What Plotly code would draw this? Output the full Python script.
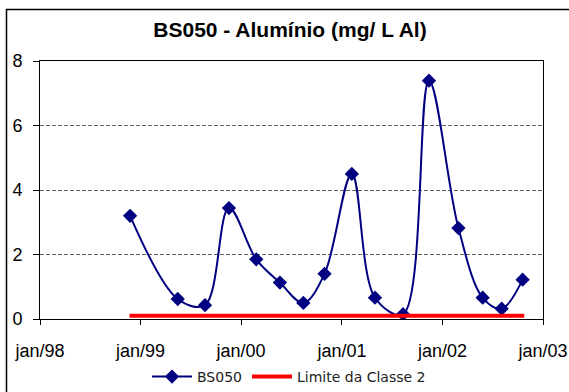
import plotly.graph_objects as go

# Data
dates = ["1998-11-24", "1999-05-16", "1999-08-23", "1999-11-18", "2000-02-25",
         "2000-05-21", "2000-08-14", "2000-10-30", "2001-02-06", "2001-05-01",
         "2001-08-11", "2001-11-13", "2002-02-28", "2002-05-27", "2002-08-04",
         "2002-10-19"]
bs050 = [3.2, 0.62, 0.43, 3.44, 1.85, 1.13, 0.50, 1.40, 4.50, 0.66,
         0.15, 7.39, 2.82, 0.66, 0.32, 1.22]
limit_dates = ["1998-11-22", "2002-10-25"]
limit_vals = [0.1, 0.1]
tick_dates = ["1998-01-01", "1999-01-01", "2000-01-01", "2001-01-01", "2002-01-01", "2003-01-01"]
tick_labels = ["jan/98", "jan/99", "jan/00", "jan/01", "jan/02", "jan/03"]

FONT = "Liberation Sans, Arial, sans-serif"

fig = go.Figure()
fig.add_trace(go.Scatter(
    x=dates, y=bs050, name="BS050", mode="lines+markers",
    line=dict(color="#000080", width=2, shape="spline", smoothing=1.0),
    marker=dict(symbol="diamond", size=11, color="#000080"),
))
fig.add_trace(go.Scatter(
    x=limit_dates, y=limit_vals, name="Limite da Classe 2", mode="lines",
    line=dict(color="#FF0000", width=4),
))

L, R, T, B = 40, 26, 61, 73
W, H = 569, 392
pw, ph = W - L - R, H - T - B

def px(x):
    return (x - L) / pw

def py(y):
    return (H - B - y) / ph

fig.update_layout(
    width=W, height=H,
    margin=dict(l=L, r=R, t=T, b=B, pad=0, autoexpand=False),
    paper_bgcolor="white", plot_bgcolor="white",
    font=dict(family=FONT, color="black", size=18),
    title=dict(text="<b>BS050 - Alumínio (mg/ L Al)</b>", x=px(290), xref="paper",
               xanchor="center", y=1 - 30 / H, yref="container", yanchor="middle",
               font=dict(family=FONT, size=21, color="black")),
    showlegend=True,
    legend=dict(orientation="h", x=px(289), xanchor="center", y=py(377), yanchor="middle",
                font=dict(family="DejaVu Sans, sans-serif", size=14, color="#222222"),
                bgcolor="rgba(0,0,0,0)", itemwidth=40),
    xaxis=dict(type="date", range=["1998-01-01", "2003-01-01"],
               tickvals=tick_dates, ticktext=tick_labels, automargin=False,
               showgrid=False, zeroline=False,
               showline=True, linecolor="black", linewidth=1, mirror=True,
               ticks="outside", ticklen=5, tickcolor="black", tickwidth=1,
               ticklabelstandoff=10,
               tickfont=dict(family=FONT, size=18, color="black")),
    yaxis=dict(range=[0, 8], dtick=2, tick0=0, automargin=False,
               showgrid=True, gridcolor="#666666", griddash="4px,2px", gridwidth=1,
               zeroline=False,
               showline=True, linecolor="black", linewidth=1, mirror=True,
               ticks="outside", ticklen=6, tickcolor="black", tickwidth=1,
               ticklabelstandoff=7,
               tickfont=dict(family=FONT, size=18, color="black")),
    shapes=[dict(type="rect", xref="paper", yref="paper",
                 x0=px(6.5), x1=px(575), y0=py(400), y1=py(9.5),
                 line=dict(color="black", width=1.5), fillcolor="rgba(0,0,0,0)",
                 layer="below")],
)

post = (
    "var s='margin:0;padding:0;overflow:hidden;width:569px;height:392px;';"
    "document.documentElement.style.cssText=s;"
    "document.body.style.cssText=s;"
    "var d=document.getElementById('{plot_id}');"
    "d.style.position='fixed';d.style.left='0px';d.style.top='0px';"
)

fig.write_html("out.html", config={"displayModeBar": False}, post_script=post)
